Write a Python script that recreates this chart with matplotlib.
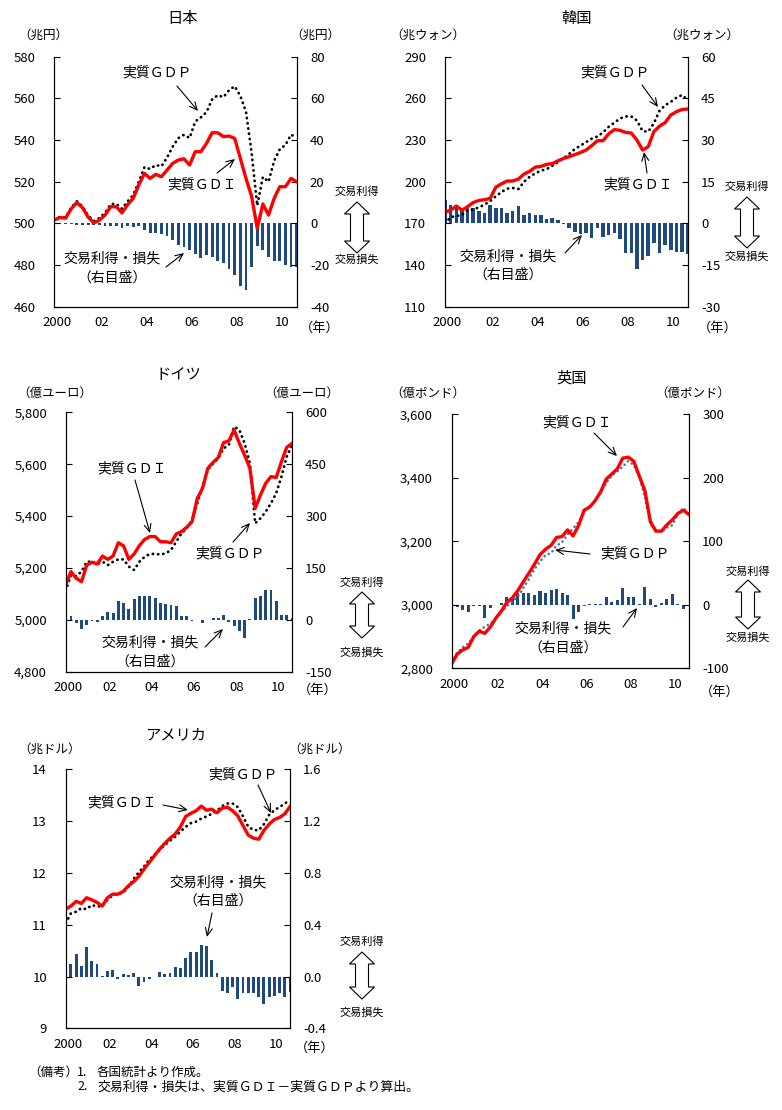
import numpy as np
import matplotlib
matplotlib.use('Agg')
import matplotlib.pyplot as plt
from matplotlib.patches import Polygon

plt.rcParams['font.family'] = ['Noto Sans CJK JP', 'DejaVu Sans']

W, H = 782, 1110
quarters = np.arange(44)          # 2000Q1 .. 2010Q4
x_labels = ['2000', '02', '04', '06', '08', '10']

# ---- 日本 (兆円)
jp_gdi = [501.6, 502.8, 502.5, 507.0, 510.0, 507.5, 503.0, 500.2, 501.5, 504.0, 508.0,
          508.0, 505.0, 509.0, 512.0, 518.5, 524.0, 521.6, 523.5, 522.4, 525.6, 528.8,
          530.4, 531.0, 528.0, 534.4, 534.4, 538.4, 543.5, 543.5, 541.6, 541.9, 540.8,
          531.2, 521.6, 513.0, 497.6, 509.3, 504.0, 512.0, 517.6, 517.6, 521.6, 520.0]
jp_gdp = [501.8, 503.1, 502.9, 507.5, 510.6, 508.2, 503.8, 501.1, 502.5, 505.1, 509.2,
          509.4, 507.0, 510.5, 513.7, 520.0, 527.0, 526.1, 528.0, 527.4, 531.6, 536.8,
          540.9, 542.5, 541.0, 548.9, 550.9, 553.4, 559.5, 561.5, 560.6, 563.9, 565.8,
          561.2, 553.6, 534.0, 508.6, 522.3, 520.0, 530.0, 535.6, 537.6, 542.6, 541.0]
jp_tt = [-0.2, -0.3, -0.4, -0.5, -0.6, -0.7, -0.8, -0.9, -1.0, -1.1, -1.2, -1.4,
         -2.0, -1.5, -1.7, -1.5, -3.0, -4.5, -4.5, -5.0, -6.0, -8.0, -10.5, -11.5,
         -13.0, -14.5, -16.5, -15.0, -16.0, -18.0, -19.0, -22.0, -25.0, -30.0, -32.0,
         -21.0, -11.0, -13.0, -16.0, -18.0, -18.0, -20.0, -21.0, -21.0]

# ---- 韓国 (兆ウォン)
kr_gdi = [178.0, 179.5, 182.5, 179.5, 182.0, 185.0, 186.5, 187.0, 188.0, 196.0, 198.5,
          200.5, 200.5, 201.9, 205.5, 207.5, 210.5, 211.0, 212.5, 213.0, 215.0, 216.8,
          218.0, 219.5, 221.0, 222.8, 226.0, 229.5, 229.5, 234.5, 237.5, 237.0, 235.5,
          235.0, 230.0, 222.8, 225.2, 236.0, 240.0, 242.5, 248.0, 250.4, 252.0, 252.3]
kr_gdp = [170.0, 174.5, 175.3, 176.0, 179.5, 180.0, 181.5, 183.5, 186.0, 189.5, 192.5,
          195.0, 195.5, 194.7, 200.0, 203.5, 206.0, 208.0, 209.0, 211.5, 214.0, 216.8,
          220.0, 223.5, 226.0, 228.5, 231.0, 232.5, 235.5, 239.5, 242.5, 245.5, 247.0,
          247.0, 244.0, 236.5, 236.0, 242.0, 251.0, 255.0, 257.5, 260.5, 262.4, 258.8]
kr_tt = [8.4, 6.6, 6.6, 5.4, 6.0, 5.4, 4.6, 3.8, 6.6, 5.6, 5.6, 3.6, 4.6, 6.2, 3.0,
         3.6, 3.0, 3.0, 1.4, 1.8, 1.2, -0.4, -1.6, -3.0, -4.0, -3.6, -5.2, -1.8, -4.8,
         -4.2, -3.6, -5.8, -10.8, -10.8, -16.5, -13.2, -11.8, -7.0, -10.8, -7.8, -9.6,
         -10.2, -10.2, -11.2]

# ---- ドイツ (億ユーロ)
de_gdi = [5134, 5186, 5160, 5147, 5211, 5222, 5215, 5246, 5233, 5246, 5297, 5285, 5233,
          5254, 5286, 5310, 5321, 5321, 5301, 5301, 5297, 5331, 5340, 5357, 5378, 5468,
          5507, 5584, 5607, 5626, 5683, 5690, 5732, 5680, 5635, 5584, 5430, 5481, 5526,
          5552, 5549, 5610, 5665, 5680]
de_gdp = [5112, 5172, 5168, 5186, 5224, 5224, 5215, 5224, 5211, 5224, 5233, 5233, 5205,
          5192, 5224, 5243, 5254, 5254, 5252, 5256, 5269, 5301, 5333, 5353, 5385, 5449,
          5513, 5578, 5603, 5623, 5661, 5674, 5745, 5732, 5680, 5603, 5372, 5391, 5417,
          5449, 5488, 5552, 5629, 5674]
de_tt = [24, 11.6, -9.6, -27, -14.5, -3, -5, 11.6, 24, 21, 53, 50, 31, 60, 69, 69, 67.5,
         62.7, 50, 46, 43, 40.5, 11.6, 9.6, -3, 0, -9.6, 0, 5, 6.7, 14.5, -5, -19, -31,
         -53, 1, 62.7, 67.5, 87, 87, 53, 14.5, 12.5, 5]

# ---- 英国 (億ポンド)
uk_gdi = [2814, 2845, 2858, 2866, 2900, 2917, 2910, 2930, 2958, 2980, 3008, 3022, 3045,
          3073, 3100, 3128, 3158, 3175, 3187, 3212, 3215, 3236, 3217, 3250, 3298, 3308,
          3328, 3356, 3396, 3412, 3428, 3462, 3465, 3452, 3405, 3360, 3262, 3232, 3232,
          3252, 3268, 3288, 3298, 3284]
uk_gdp = [2820, 2849, 2866, 2878, 2902, 2919, 2931, 2940, 2958, 2978, 2996, 3010, 3026,
          3054, 3081, 3112, 3136, 3156, 3163, 3186, 3197, 3221, 3240, 3261, 3295, 3308,
          3328, 3355, 3384, 3407, 3420, 3435, 3453, 3440, 3404, 3340, 3253, 3236, 3230,
          3243, 3251, 3287, 3305, 3286]
uk_tt = [-5.5, -4, -8, -12, -2, -2, -21, -5.5, 0, 2.4, 12, 12, 19, 19, 19, 15.5, 22, 19,
         24, 25.5, 18, 15, -23, -11, -2, 0.5, 0.5, 1, 12, 4.5, 7.6, 27, 12, 12, 1, 27.5,
         8.7, -4, 2.4, 8.7, 16.5, 1, -7, -2]

# ---- アメリカ (兆ドル)
us_gdi = [11.30, 11.36, 11.45, 11.41, 11.52, 11.48, 11.43, 11.36, 11.52, 11.59, 11.59,
          11.64, 11.75, 11.83, 11.93, 12.07, 12.20, 12.33, 12.46, 12.57, 12.67, 12.75,
          12.89, 13.09, 13.15, 13.20, 13.29, 13.21, 13.23, 13.16, 13.25, 13.27, 13.20,
          13.10, 12.91, 12.73, 12.67, 12.65, 12.82, 12.94, 13.03, 13.07, 13.14, 13.28]
us_gdp = [11.03, 11.22, 11.25, 11.32, 11.30, 11.38, 11.35, 11.36, 11.48, 11.57, 11.59,
          11.62, 11.73, 11.88, 12.01, 12.12, 12.25, 12.35, 12.44, 12.54, 12.62, 12.70,
          12.80, 12.89, 12.96, 12.99, 13.05, 13.09, 13.14, 13.20, 13.29, 13.34, 13.34,
          13.27, 13.09, 12.89, 12.83, 12.82, 12.94, 13.12, 13.21, 13.27, 13.34, 13.41]
us_tt = [0.25, 0.094, 0.17, 0.08, 0.23, 0.12, 0.094, 0.005, 0.045, 0.05, -0.02, 0.02,
         0.012, 0.025, -0.07, -0.04, -0.02, 0.0, 0.037, 0.02, 0.03, 0.07, 0.065, 0.145,
         0.19, 0.19, 0.245, 0.235, 0.13, 0.025, -0.11, -0.125, -0.08, -0.175, -0.125,
         -0.125, -0.125, -0.155, -0.21, -0.155, -0.15, -0.13, -0.16, -0.12]

BAR = '#1F4A7E'
RED = '#FF0000'

fig = plt.figure(figsize=(W / 100, H / 100), dpi=100)


def px_rect(l, r, t, b):
    return [l / W, 1 - b / H, (r - l) / W, (b - t) / H]


def panel(box, gdi, gdp, tt, lticks, rticks, lfmt, rfmt, gdp_color='black', gdp_lw=2.0,
          bw=0.55):
    ax = fig.add_axes(px_rect(*box))
    axr = ax.twinx()
    ax.set_zorder(axr.get_zorder() + 1)
    ax.patch.set_visible(False)
    axr.bar(quarters, tt, width=bw, color=BAR, linewidth=0)
    ax.plot(quarters, gdp, color=gdp_color, lw=gdp_lw, ls=(0, (0.1, 1.8)),
            dash_capstyle='round')
    ax.plot(quarters, gdi, color=RED, lw=2.4, solid_joinstyle='round')
    ax.set_xlim(0, 43)
    ax.set_ylim(lticks[0], lticks[-1])
    axr.set_ylim(rticks[0], rticks[-1])
    ax.set_yticks(lticks, [lfmt(v) for v in lticks])
    axr.set_yticks(rticks, [rfmt(v) for v in rticks])
    ax.set_xticks(np.arange(0, 41, 8) + 0.4, x_labels)
    for a in (ax, axr):
        a.spines['top'].set_visible(False)
        for s in ('left', 'right', 'bottom'):
            a.spines[s].set_linewidth(0.8)
    ax.tick_params(axis='y', direction='in', length=4, width=0.8, pad=13.5, labelsize=9.5)
    axr.tick_params(axis='y', direction='in', length=4, width=0.8, pad=9.5, labelsize=9.5)
    ax.tick_params(axis='x', length=0, pad=7, labelsize=9.5)
    return ax, axr


intf = lambda v: f'{v:g}'
commaf = lambda v: f'{v:,}'
onef = lambda v: f'{v:.1f}'

panel((54.3, 296.7, 56.7, 306.7), jp_gdi, jp_gdp, jp_tt,
      list(range(460, 581, 20)), list(range(-40, 81, 20)), intf, intf, bw=0.5)
panel((445, 687.7, 56.7, 306.7), kr_gdi, kr_gdp, kr_tt,
      list(range(110, 291, 30)), list(range(-30, 61, 15)), intf, intf, bw=0.62)
panel((65.7, 292, 412.3, 671.7), de_gdi, de_gdp, de_tt,
      list(range(4800, 5801, 200)), list(range(-150, 601, 150)), commaf, intf)
panel((451.7, 689, 414.3, 668.3), uk_gdi, uk_gdp, uk_tt,
      list(range(2800, 3601, 200)), list(range(-100, 301, 100)), commaf, intf,
      gdp_color='#4470A8', gdp_lw=1.8)
panel((65.7, 290, 769.3, 1028.3), us_gdi, us_gdp, us_tt,
      list(range(9, 15)), [-0.4, 0.0, 0.4, 0.8, 1.2, 1.6], intf, onef)

# overlay in pixel coordinates for titles, labels and arrows
ov = fig.add_axes([0, 0, 1, 1])
ov.set_xlim(0, W)
ov.set_ylim(H, 0)
ov.axis('off')
ov.set_zorder(20)


def txt(x, y, s, size=10, ha='center', **kw):
    ov.text(x, y, s, fontsize=size, ha=ha, va='center', **kw)


def arrow(x1, y1, x2, y2):
    ov.annotate('', xy=(x2, y2), xytext=(x1, y1),
                arrowprops=dict(arrowstyle='->,head_length=0.55,head_width=0.25',
                                lw=0.8, color='black', shrinkA=0, shrinkB=0))


def side_arrow(cx, top, bot, t1, t2):
    hw, sw, hl = 12.5, 6.5, 12
    pts = [(cx, top), (cx + hw, top + hl), (cx + sw, top + hl), (cx + sw, bot - hl),
           (cx + hw, bot - hl), (cx, bot), (cx - hw, bot - hl), (cx - sw, bot - hl),
           (cx - sw, top + hl), (cx - hw, top + hl)]
    ov.add_patch(Polygon(pts, closed=True, facecolor='white', edgecolor='black', lw=0.8))
    txt(cx, t1, '交易利得', size=8)
    txt(cx, t2, '交易損失', size=8)


# 日本
txt(183, 18, '日本', size=11)
txt(43, 35, '（兆円）', size=9)
txt(315, 35, '（兆円）', size=9)
txt(157, 72, '実質ＧＤＰ')
arrow(177, 86, 198, 111)
txt(202, 184, '実質ＧＤＩ')
arrow(217, 173, 235, 159)
txt(112, 258, '交易利得・損失')
txt(112, 278, '（右目盛）')
arrow(166, 267, 184, 253)
txt(320, 328, '（年）', size=9.5)
side_arrow(357, 202, 253, 192, 260)

# 韓国
txt(577, 18, '韓国', size=11)
txt(428, 35, '（兆ウォン）', size=9)
txt(702, 35, '（兆ウォン）', size=9)
txt(615, 72, '実質ＧＤＰ')
arrow(642, 85, 658, 107)
txt(638, 184, '実質ＧＤＩ')
arrow(647, 173, 644, 152)
txt(508, 257, '交易利得・損失')
txt(508, 275, '（右目盛）')
arrow(565, 253, 582, 235)
txt(718, 328, '（年）', size=9.5)
side_arrow(747, 197, 248, 187, 257)

# ドイツ
txt(178, 375, 'ドイツ', size=11)
txt(55, 393, '（億ユーロ）', size=9)
txt(302, 393, '（億ユーロ）', size=9)
txt(132, 468, '実質ＧＤＩ')
arrow(135, 480, 150, 533)
txt(230, 553, '実質ＧＤＰ')
arrow(233, 542, 250, 523)
txt(150, 643, '交易利得・損失')
txt(150, 662, '（右目盛）')
arrow(205, 647, 223, 629)
txt(318, 690, '（年）', size=9.5)
side_arrow(362, 592, 638, 583, 653)

# 英国
txt(572, 378, '英国', size=11)
txt(428, 393, '（億ポンド）', size=9)
txt(693, 393, '（億ポンド）', size=9)
txt(577, 422, '実質ＧＤＩ')
arrow(594, 433, 617, 456)
txt(635, 553, '実質ＧＤＰ')
arrow(590, 554, 555, 550)
txt(563, 629, '交易利得・損失')
txt(563, 648, '（右目盛）')
arrow(623, 627, 637, 608)
txt(720, 692, '（年）', size=9.5)
side_arrow(748, 580, 629, 572, 638)

# アメリカ
txt(176, 735, 'アメリカ', size=11)
txt(50, 749, '（兆ドル）', size=9)
txt(320, 749, '（兆ドル）', size=9)
txt(122, 802, '実質ＧＤＩ')
arrow(163, 805, 188, 810)
txt(243, 774, '実質ＧＤＰ')
arrow(258, 785, 271, 813)
txt(218, 883, '交易利得・損失')
txt(218, 901, '（右目盛）')
arrow(212, 913, 207, 937)
txt(315, 1048, '（年）', size=9.5)
side_arrow(362, 952, 999, 942, 1013)

# 備考
txt(28, 1072, '（備考）', size=9, ha='left')
txt(77, 1072, '1.', size=9, ha='left')
txt(97, 1072, '各国統計より作成。', size=9, ha='left')
txt(77, 1087, '2.', size=9, ha='left')
txt(97, 1087, '交易利得・損失は、実質ＧＤＩ－実質ＧＤＰより算出。', size=9.3, ha='left')

fig.savefig('out.png', dpi=100)
